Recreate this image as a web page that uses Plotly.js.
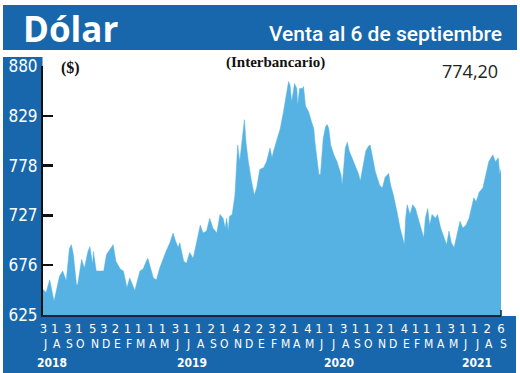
<!DOCTYPE html>
<html><head><meta charset="utf-8">
<script src="https://cdn.plot.ly/plotly-3.0.1.min.js"></script>
<style>html,body{margin:0;padding:0;background:#fff}#chart{width:520px;height:373px}</style>
</head><body><div id="chart"></div>
<script>
// ---- data ----
const dates = [
"2018-07-02","2018-07-10","2018-07-19","2018-07-30","2018-08-13","2018-08-21","2018-08-30","2018-09-07","2018-09-12","2018-09-17",
"2018-09-25","2018-09-28","2018-10-08","2018-10-15","2018-10-24","2018-10-29","2018-11-05","2018-11-07","2018-11-14","2018-11-22",
"2018-12-03","2018-12-10","2018-12-18","2018-12-27","2019-01-03","2019-01-14","2019-01-22","2019-01-31","2019-02-07","2019-02-20",
"2019-03-05","2019-03-13","2019-03-21","2019-03-25","2019-04-08","2019-04-16","2019-04-24","2019-05-03","2019-05-10","2019-05-20",
"2019-05-28","2019-06-03","2019-06-10","2019-06-14","2019-06-24","2019-07-01","2019-07-09","2019-07-18","2019-07-26","2019-08-05",
"2019-08-12","2019-08-21","2019-08-29","2019-09-06","2019-09-16","2019-09-24","2019-10-02","2019-10-07","2019-10-11","2019-10-15",
"2019-10-18","2019-10-25","2019-11-01","2019-11-05","2019-11-08","2019-11-13","2019-11-18","2019-11-25","2019-11-29","2019-12-05",
"2019-12-13","2019-12-20","2019-12-26","2020-01-03","2020-01-13","2020-01-20","2020-01-29","2020-02-03","2020-02-07","2020-02-14",
"2020-02-24","2020-03-03","2020-03-10","2020-03-16","2020-03-20","2020-03-24","2020-03-31","2020-04-06","2020-04-08","2020-04-13",
"2020-04-20","2020-04-23","2020-04-28","2020-05-06","2020-05-14","2020-05-19","2020-05-22","2020-05-27","2020-06-01","2020-06-05",
"2020-06-12","2020-06-18","2020-06-22","2020-06-26","2020-07-01","2020-07-09","2020-07-17","2020-07-27","2020-07-30","2020-08-03",
"2020-08-07","2020-08-12","2020-08-17","2020-08-24","2020-09-02","2020-09-10","2020-09-14","2020-09-21","2020-09-28","2020-10-05",
"2020-10-09","2020-10-14","2020-10-22","2020-11-02","2020-11-09","2020-11-16","2020-11-25","2020-11-30","2020-12-07","2020-12-16",
"2020-12-24","2021-01-04","2021-01-07","2021-01-11","2021-01-18","2021-01-25","2021-02-01","2021-02-05","2021-02-15","2021-02-22",
"2021-02-26","2021-03-04","2021-03-09","2021-03-15","2021-03-24","2021-03-29","2021-04-06","2021-04-14","2021-04-21","2021-04-27",
"2021-05-03","2021-05-10","2021-05-17","2021-05-25","2021-06-01","2021-06-09","2021-06-17","2021-06-22","2021-06-29","2021-07-05",
"2021-07-13","2021-07-22","2021-07-30","2021-08-06","2021-08-16","2021-08-23","2021-08-30","2021-09-03","2021-09-06"
];
const values = [
651,648,661,639,665,670,660,693,697,687,
656,656,682,673,690,695,677,690,670,670,
670,687,692,697,680,672,670,653,663,650,
670,672,680,683,663,661,673,683,690,699,
709,701,694,699,680,678,689,683,699,717,
709,711,724,714,709,728,724,714,724,711,
726,728,748,772,799,782,802,825,802,782,
762,748,755,774,776,782,796,786,793,802,
816,833,850,864,860,843,862,857,839,857,
857,859,839,833,822,816,802,782,769,769,
806,818,820,816,799,789,782,769,758,776,
796,802,793,786,776,769,762,776,793,798,
799,789,772,758,755,766,770,758,748,731,
714,697,724,738,728,738,734,728,714,704,
724,734,717,728,724,728,714,704,697,711,
699,694,707,721,714,717,724,734,745,741,
751,755,769,782,789,782,786,769,774.2
];
const tickDates = [
"2018-07-03","2018-08-01","2018-09-03","2018-10-01","2018-11-05","2018-12-03",
"2019-01-02","2019-02-01","2019-03-01","2019-04-01","2019-05-01","2019-06-03",
"2019-07-01","2019-08-01","2019-09-02","2019-10-01","2019-11-04","2019-12-02",
"2020-01-02","2020-02-03","2020-03-02","2020-04-01","2020-05-04","2020-06-01",
"2020-07-01","2020-08-03","2020-09-01","2020-10-01","2020-11-02","2020-12-01",
"2021-01-04","2021-02-01","2021-03-01","2021-04-01","2021-05-03","2021-06-01",
"2021-07-01","2021-08-02","2021-09-06"
];
const tickDays = ["3","1","3","1","5","3","2","1","1","1","1","3","1","1","2","1","4","2",
"2","3","2","1","4","1","1","3","1","1","2","1","4","1","1","1","3","1","1","2","6"];
const monthLetters = ["J","A","S","O","N","D","E","F","M","A","M","J","J","A","S","O","N","D",
"E","F","M","A","M","J","J","A","S","O","N","D","E","F","M","A","M","J","J","A","S"];
const yearLabels = ["2018","2019","2020","2021"];
const yearDates = ["2018-07-24","2019-07-15","2020-07-22","2021-07-08"];
const yTicks = [625,676,727,778,829,880];
const yRange = [625,880];
const xRange = ["2018-07-02","2021-09-06"];
const titleText = "Dólar";
const subtitleText = "Venta al 6 de septiembre";
const unitText = "($)";
const noteText = "(Interbancario)";
const lastValueText = "774,20";

// ---- layout helpers (pixel -> paper) ----
const L = 43, R = 501, T = 66, B = 315, W = 520, H = 373;
const px = x => (x - L) / (R - L);
const py = y => (B - y) / (B - T);
const BLUE = '#1867ad';
const FILL = '#55b2e2';
const NARROW = "'Liberation Sans Narrow','DejaVu Sans Condensed','Roboto',sans-serif";

const shapes = [
  {type:'rect', xref:'paper', yref:'paper', x0:px(3), x1:px(517), y0:py(50), y1:py(5), fillcolor:BLUE, line:{width:0}, layer:'below'},
  {type:'rect', xref:'paper', yref:'paper', x0:px(3), x1:px(42.5), y0:py(373), y1:py(57), fillcolor:BLUE, line:{width:0}, layer:'below'},
  {type:'rect', xref:'paper', yref:'paper', x0:px(3), x1:px(516), y0:py(373), y1:py(316), fillcolor:BLUE, line:{width:0}, layer:'below'},
  {type:'line', xref:'paper', yref:'paper', x0:1, x1:1, y0:py(316), y1:py(310), line:{color:'#1a2238', width:1.5}}
];

const annotations = [
  {text:titleText, xref:'paper', yref:'paper', x:px(21), y:py(28), xanchor:'left', yanchor:'middle', showarrow:false,
   font:{family:"'Open Sans',sans-serif", size:35, color:'#fff', weight:700}},
  {text:subtitleText, xref:'paper', yref:'paper', x:px(504), y:py(34), xanchor:'right', yanchor:'middle', showarrow:false,
   font:{family:"Roboto,sans-serif", size:21, color:'#fff', weight:500}},
  {text:unitText, xref:'paper', yref:'paper', x:px(59), y:py(68), xanchor:'left', yanchor:'middle', showarrow:false,
   font:{family:"'Liberation Serif',serif", size:16, color:'#111', weight:700}},
  {text:noteText, xref:'paper', yref:'paper', x:px(275), y:py(62), xanchor:'center', yanchor:'middle', showarrow:false,
   font:{family:"'Liberation Serif',serif", size:15, color:'#111', weight:700}},
  {text:lastValueText, xref:'paper', yref:'paper', x:px(500), y:py(71), xanchor:'right', yanchor:'middle', showarrow:false,
   font:{family:"'Open Sans',sans-serif", size:18, color:'#222'}}
];
monthLetters.forEach((m, i) => annotations.push({
  text:m, xref:'x', yref:'paper', x:tickDates[i], y:py(344), xanchor:'center', yanchor:'middle', xshift:2, showarrow:false,
  borderpad:0, font:{family:NARROW, size:12, color:'#fff'}
}));
yearLabels.forEach((yl, i) => annotations.push({
  text:yl, xref:'x', yref:'paper', x:yearDates[i], y:py(363), xanchor:'center', yanchor:'middle', showarrow:false,
  borderpad:0, font:{family:NARROW, size:12, color:'#fff', weight:700}
}));

const trace = {
  type:'scatter', mode:'lines', x:dates, y:values, fill:'tozeroy', fillcolor:FILL,
  line:{color:FILL, width:0.5, shape:'linear'}, hoverinfo:'skip', showlegend:false
};

const layout = {
  width:W, height:H, margin:{l:L, r:W-R, t:T, b:H-B, pad:0},
  paper_bgcolor:'#fff', plot_bgcolor:'rgba(0,0,0,0)', showlegend:false,
  xaxis:{type:'date', range:xRange, tickmode:'array', tickvals:tickDates, ticktext:tickDays,
    ticks:'', showgrid:false, zeroline:false, showline:true, linecolor:'#1a2238', linewidth:2,
    tickfont:{family:NARROW, size:13, color:'#fff'}, fixedrange:true},
  yaxis:{range:yRange, tickmode:'array', tickvals:yTicks, ticks:'inside', ticklen:10, tickwidth:2.5, tickcolor:'#111',
    showgrid:false, zeroline:false, showline:true, linecolor:'#111', linewidth:2,
    tickfont:{family:NARROW, size:17, color:'#fff'}, fixedrange:true},
  shapes:shapes, annotations:annotations
};

Plotly.newPlot('chart', [trace], layout, {displayModeBar:false, staticPlot:true});
</script></body></html>
